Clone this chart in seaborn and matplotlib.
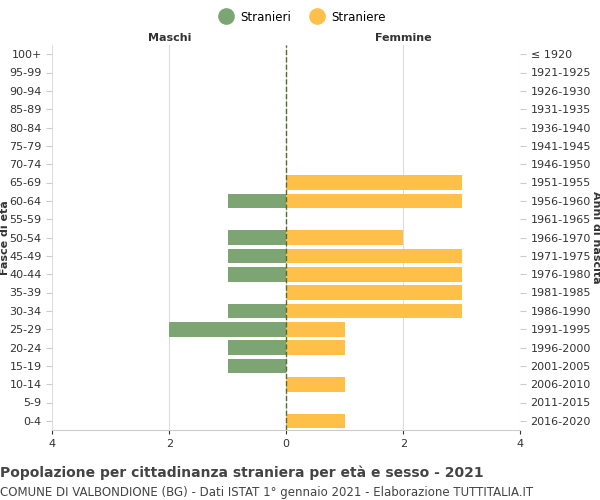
import pandas as pd
import numpy as np
import seaborn as sns
import matplotlib.pyplot as plt

age_groups = ["100+", "95-99", "90-94", "85-89", "80-84", "75-79", "70-74", "65-69",
              "60-64", "55-59", "50-54", "45-49", "40-44", "35-39", "30-34", "25-29",
              "20-24", "15-19", "10-14", "5-9", "0-4"]
birth_years = ["≤ 1920", "1921-1925", "1926-1930", "1931-1935", "1936-1940", "1941-1945",
               "1946-1950", "1951-1955", "1956-1960", "1961-1965", "1966-1970", "1971-1975",
               "1976-1980", "1981-1985", "1986-1990", "1991-1995", "1996-2000", "2001-2005",
               "2006-2010", "2011-2015", "2016-2020"]
males = [0, 0, 0, 0, 0, 0, 0, 0, 1, 0, 1, 1, 1, 0, 1, 2, 1, 1, 0, 0, 0]
females = [0, 0, 0, 0, 0, 0, 0, 3, 3, 0, 2, 3, 3, 3, 3, 1, 1, 0, 1, 0, 1]

green = "#7da574"
yellow = "#ffc04a"

df = pd.DataFrame({
    "age": age_groups * 2,
    "value": [-m for m in males] + females,
    "sex": ["Stranieri"] * len(males) + ["Straniere"] * len(females),
})

fig = plt.figure(figsize=(6, 5), dpi=100)
ax = fig.add_axes([0.087, 0.14, 0.78, 0.77])

sns.barplot(data=df, y="age", x="value", hue="sex", order=age_groups,
            palette={"Stranieri": green, "Straniere": yellow}, dodge=False,
            width=0.8, ax=ax, legend=False, saturation=1)

ax.set_xlim(-4, 4)
ax.set_ylim(len(age_groups) - 0.5, -0.5)
ax.set_xticks([-4, -2, 0, 2, 4])
ax.set_xticklabels(["4", "2", "0", "2", "4"])
ax.xaxis.grid(True, color="#dddddd", linewidth=0.8)
ax.set_axisbelow(True)
ax.axvline(0, color="#556b2f", linestyle="--", linewidth=1)
for s in ["top", "right", "left"]:
    ax.spines[s].set_visible(False)
ax.spines["bottom"].set_color("#cccccc")
ax.tick_params(axis="both", labelsize=8, colors="#333333", length=3)
ax.tick_params(axis="y", length=4, color="#cccccc")
ax.set_xlabel("")
ax.set_ylabel("Fasce di età", fontsize=8, fontweight="bold", color="#333333", va="center")
ax.yaxis.set_label_coords(-0.1, 0.5)

ax2 = ax.twinx()
ax2.set_ylim(ax.get_ylim())
ax2.set_yticks(range(len(birth_years)))
ax2.set_yticklabels(birth_years)
ax2.tick_params(axis="y", labelsize=8, colors="#333333", length=4, color="#cccccc")
for s in ["top", "right", "left", "bottom"]:
    ax2.spines[s].set_visible(False)
ax2.set_ylabel("Anni di nascita", fontsize=8, fontweight="bold", color="#333333",
               rotation=270, va="center")
ax2.yaxis.set_label_coords(1.162, 0.5)

ax.text(-2, -0.6, "Maschi", ha="center", va="bottom", fontsize=8,
        fontweight="bold", color="#333333")
ax.text(2, -0.6, "Femmine", ha="center", va="bottom", fontsize=8,
        fontweight="bold", color="#333333")

fig.legend(handles=[plt.Line2D([], [], marker="o", ls="", ms=11, color=green),
                    plt.Line2D([], [], marker="o", ls="", ms=11, color=yellow)],
           labels=["Stranieri", "Straniere"], loc="upper center", ncol=2,
           bbox_to_anchor=(0.5, 1.0), frameon=False, fontsize=8.5,
           handletextpad=0.2, columnspacing=1.2)

fig.text(0.0, 0.045, "Popolazione per cittadinanza straniera per età e sesso - 2021",
         fontsize=10, fontweight="bold", color="#444444")
fig.text(0.0, 0.008, "COMUNE DI VALBONDIONE (BG) - Dati ISTAT 1° gennaio 2021 - Elaborazione TUTTITALIA.IT",
         fontsize=8.5, color="#444444")

fig.savefig("out.png", dpi=100)
